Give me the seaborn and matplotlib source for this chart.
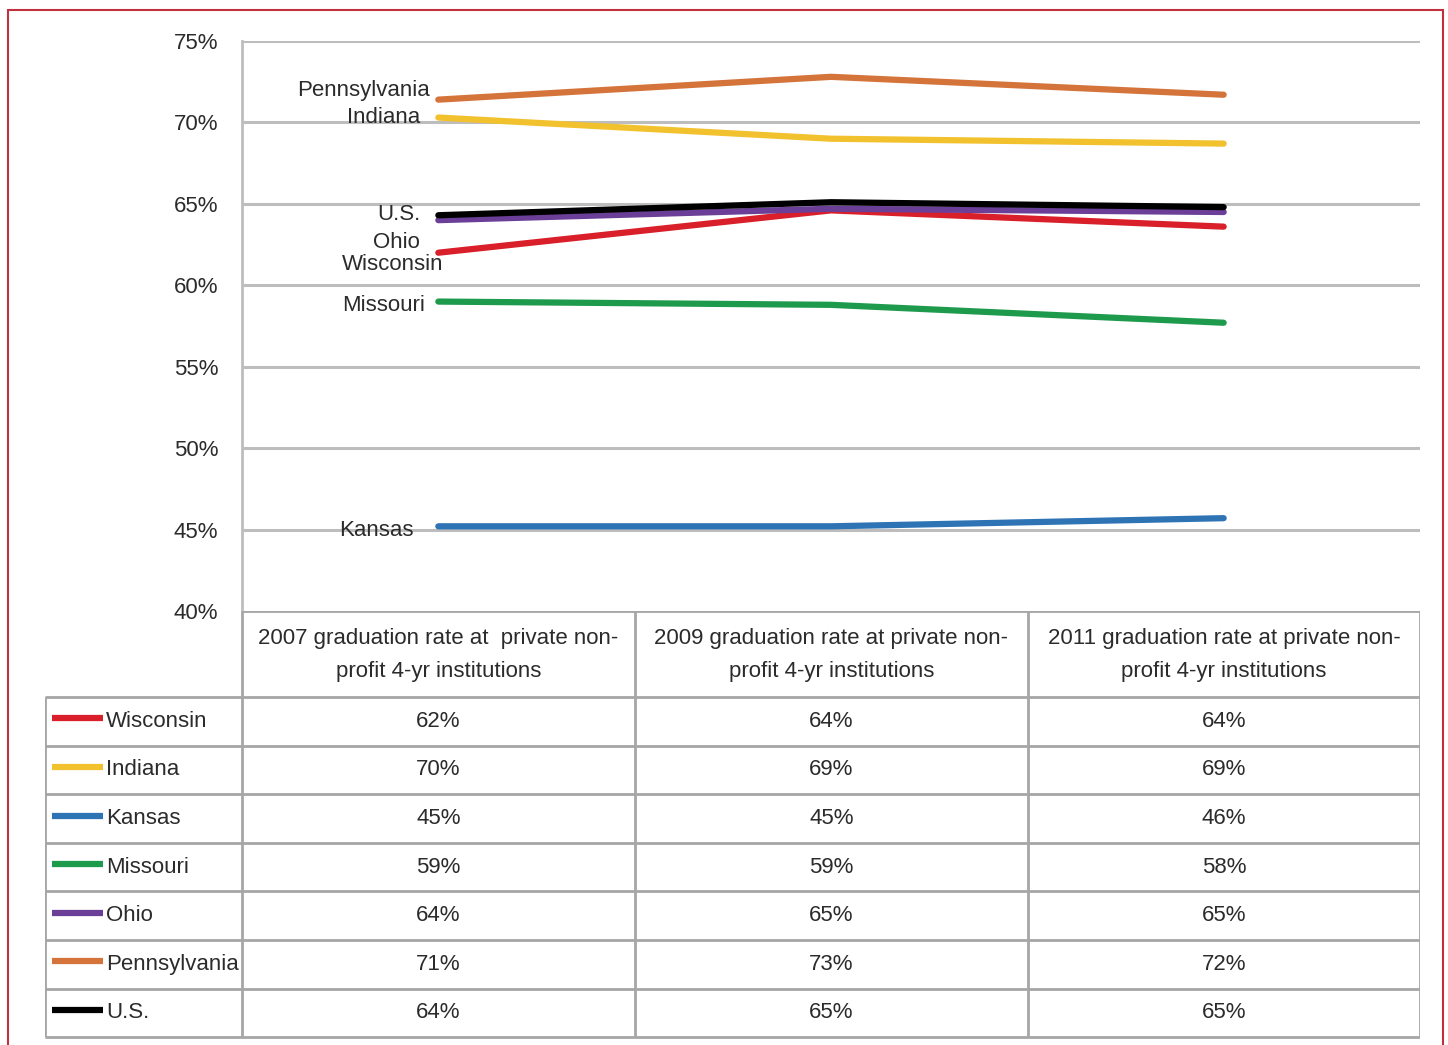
import numpy as np
import pandas as pd
import matplotlib
matplotlib.use('Agg')
import matplotlib.pyplot as plt
import seaborn as sns
from matplotlib.patches import Rectangle

# %%
states = ['Wisconsin', 'Indiana', 'Kansas', 'Missouri', 'Ohio', 'Pennsylvania', 'U.S.']
columns = ['2007 graduation rate at  private non-\nprofit 4-yr institutions',
           '2009 graduation rate at private non-\nprofit 4-yr institutions',
           '2011 graduation rate at private non-\nprofit 4-yr institutions']

wisconsin = [62.0, 64.6, 63.6]
indiana = [70.3, 69.0, 68.7]
kansas = [45.2, 45.2, 45.7]
missouri = [59.0, 58.8, 57.7]
ohio = [64.0, 64.7, 64.5]
pennsylvania = [71.4, 72.8, 71.7]
us = [64.3, 65.1, 64.8]

# valores mostrados na tabela
tab_wisconsin = ['62%', '64%', '64%']
tab_indiana = ['70%', '69%', '69%']
tab_kansas = ['45%', '45%', '46%']
tab_missouri = ['59%', '59%', '58%']
tab_ohio = ['64%', '65%', '65%']
tab_pennsylvania = ['71%', '73%', '72%']
tab_us = ['64%', '65%', '65%']

cores = {'Wisconsin': '#d81f2a', 'Indiana': '#f2c12e', 'Kansas': '#2e74b5',
         'Missouri': '#1e9a4c', 'Ohio': '#6b3f98', 'Pennsylvania': '#d4733a',
         'U.S.': '#000000'}

series = [wisconsin, indiana, kansas, missouri, ohio, pennsylvania, us]
tabela = [tab_wisconsin, tab_indiana, tab_kansas, tab_missouri, tab_ohio, tab_pennsylvania, tab_us]

df = pd.DataFrame([(s, i, v) for s, vals in zip(states, series) for i, v in enumerate(vals)],
                  columns=['state', 'pos', 'rate'])

# %%
sns.set_style('white')
plt.rcParams['font.family'] = ['Liberation Sans', 'DejaVu Sans']
txt = '#2b2b2b'
grid = '#bdbdbd'
fs = 16

W, H = 1448, 1045
fig = plt.figure(figsize=(W / 100, H / 100), dpi=100)

def px_axes(x0, y0, x1, y1):
    return fig.add_axes([x0 / W, 1 - y1 / H, (x1 - x0) / W, (y1 - y0) / H])

ax = px_axes(242, 41, 1420, 611)
sns.lineplot(df, x='pos', y='rate', hue='state', hue_order=states, palette=cores,
             linewidth=4.5, legend=False, ax=ax)
ax.set_xlim(-0.5, 2.5)
ax.set_ylim(40, 75)
ax.set_yticks(np.arange(40, 76, 5))
ax.set_yticklabels([f'{t}%' for t in range(40, 76, 5)], fontsize=fs, color=txt)
ax.set_xticks([])
ax.set_xlabel('')
ax.set_ylabel('')
ax.tick_params(axis='y', length=0, pad=17)
for y in range(45, 76, 5):
    ax.axhline(y, color=grid, lw=2.2, zorder=0)
for s in ['top', 'right', 'bottom']:
    ax.spines[s].set_visible(False)
ax.spines['left'].set_color(grid)
ax.spines['left'].set_linewidth(2)

# rótulos à esquerda do primeiro ponto
offsets = {'Pennsylvania': (-8, 9), 'Indiana': (-18, 0), 'U.S.': (-18, 1),
           'Ohio': (-18, -22), 'Wisconsin': (5, -12), 'Missouri': (-13, -4),
           'Kansas': (-25, -4)}
for s, vals in zip(states, series):
    ax.annotate(s, (0, vals[0]), xytext=offsets[s], textcoords='offset pixels',
                ha='right', va='center', fontsize=fs, color=txt)

# %%
# tabela de dados
tab = px_axes(45, 611, 1420, 1040)
tab.set_xlim(45, 1420)
tab.set_ylim(1040, 611)
tab.axis('off')

row_y = [697 + 48.6 * i for i in range(len(states) + 1)]
col_x = [242, 635, 1028, 1420]
lc = '#a6a6a6'

tab.hlines(611, 242, 1420, color=lc, lw=2)
for y in row_y:
    tab.hlines(y, 45, 1420, color=lc, lw=2)
for x in col_x:
    tab.vlines(x, 611, row_y[-1], color=lc, lw=2)
tab.vlines(45, row_y[0], row_y[-1], color=lc, lw=2)

for j, c in enumerate(columns):
    tab.text((col_x[j] + col_x[j + 1]) / 2, 655, c, ha='center', va='center',
             fontsize=fs, color=txt, linespacing=1.75)

for i, (s, labels) in enumerate(zip(states, tabela)):
    yc = (row_y[i] + row_y[i + 1]) / 2
    tab.plot([52, 103], [yc - 3, yc - 3], color=cores[s], lw=4.5, solid_capstyle='butt')
    tab.text(106, yc, s, ha='left', va='center', fontsize=fs, color=txt)
    for j, lab in enumerate(labels):
        tab.text((col_x[j] + col_x[j + 1]) / 2, yc, lab, ha='center', va='center',
                 fontsize=fs, color=txt)

# borda vermelha da figura
fig.patches.append(Rectangle((8 / W, -0.01), (1443 - 8) / W, 1 - 10 / H + 0.01,
                             transform=fig.transFigure, fill=False,
                             edgecolor='#c0303f', lw=1.5))

fig.savefig('out.png', dpi=100)
